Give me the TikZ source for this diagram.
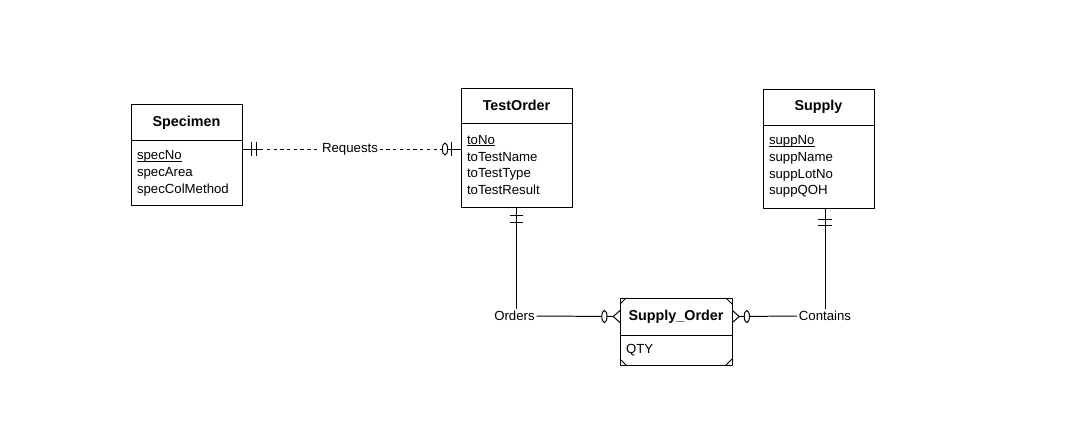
\documentclass[tikz,border=0pt]{standalone}
\usepackage{fontspec}
\setmainfont{Liberation Sans}
\usetikzlibrary{positioning,calc}
\newcommand\keyattr[1]{\setbox0\hbox{#1}\rlap{\rule[-1.4pt]{\wd0}{0.55pt}}#1}
\tikzset{
  erhead/.style={draw, line width=0.7pt, outer sep=0pt, minimum width=2.775cm, minimum height=0.9cm, inner sep=0pt, font=\fontsize{10.2}{12}\selectfont\bfseries},
  erbody/.style={draw, line width=0.7pt, outer sep=0pt, minimum width=2.775cm, text width=2.475cm, inner xsep=0.15cm, inner ysep=0pt, align=left, font=\fontsize{9.4}{12}\selectfont},
  erlabel/.style={inner sep=1pt, font=\fontsize{9.4}{12}\selectfont},
  erline/.style={line width=0.7pt},
  erdash/.style={line width=0.7pt, dash pattern=on 2.4pt off 2.4pt},
  barmark/.pic={\draw[erline] (0,-0.17) -- (0,0.17);},
  ovalmark/.pic={\draw[erline, fill=white] (0,0) ellipse [x radius=0.065, y radius=0.15];},
  crowmark/.pic={\draw[erline] (0.17,0.15) -- (0,0) -- (0.17,-0.15);}
}
\begin{document}
\begin{tikzpicture}
\useasboundingbox (0,0) rectangle (27,11.05);
% entities
\node[erhead] (specHead) at (4.6625,7.98) {Specimen};
\node[erbody, minimum height=1.625cm, below=0pt of specHead] (specAttr) {\keyattr{specNo}\\specArea\\specColMethod};
\node[erhead, minimum height=0.875cm] (toHead) at (12.9125,8.4125) {TestOrder};
\node[erbody, minimum height=2.1cm, below=0pt of toHead] (toAttr) {\keyattr{toNo}\\toTestName\\toTestType\\toTestResult};
\node[erhead] (suppHead) at (20.4625,8.375) {Supply};
\node[erbody, minimum height=2.075cm, below=0pt of suppHead] (suppAttr) {\keyattr{suppNo}\\suppName\\suppLotNo\\suppQOH};
\node[erhead, minimum width=2.8cm, minimum height=0.925cm] (soHead) at (16.9,3.1375) {Supply\_Order};
\node[erbody, minimum width=2.8cm, text width=2.5cm, minimum height=0.75cm, below=0pt of soHead] (soAttr) {QTY};
% corner marks of the associative entity
\foreach \c/\dx/\dy in {soHead.north west/0.15/-0.15, soHead.north east/-0.15/-0.15, soAttr.south west/0.15/0.15, soAttr.south east/-0.15/0.15}
  \draw[erline] ($(\c)+(\dx,0)$) -- ($(\c)+(0,\dy)$);

% relationships
\node[erlabel] (requests) at (8.75,7.325) {Requests};
\node[erlabel] (orders) at (12.8625,3.15) {Orders};
\node[erlabel] (contains) at (20.625,3.15) {Contains};

% Specimen -- TestOrder
\coordinate (reqL) at (specAttr.east |- requests);
\coordinate (reqR) at (toAttr.west |- requests);
\draw[erline] (reqL) -- ++(0.45,0) coordinate (reqLd);
\draw[erdash] (reqLd) -- (requests.west);
\draw[erdash] (requests.east) -- ($(reqR)+(-0.4,0)$);
\draw[erline] ($(reqR)+(-0.4,0)$) -- (reqR);
\pic at ($(reqL)+(0.24,0)$) {barmark};
\pic at ($(reqL)+(0.37,0)$) {barmark};
\pic at ($(reqR)+(-0.25,0)$) {barmark};
\pic at ($(reqR)+(-0.4,0)$) {ovalmark};

% TestOrder -- Supply_Order
\draw[erline] (toAttr.south) -- (toAttr.south |- orders.north);
\draw[erline] (orders.east) -- ($(soHead.west)+(-0.17,0)$);
\pic[rotate=90] at ($(toAttr.south)+(0,-0.2)$) {barmark};
\pic[rotate=90] at ($(toAttr.south)+(0,-0.375)$) {barmark};
\pic at ($(soHead.west)+(-0.39,0)$) {ovalmark};
\pic at ($(soHead.west)+(-0.17,0)$) {crowmark};

% Supply -- Supply_Order
\coordinate (conTop) at (contains.north |- suppAttr.south);
\draw[erline] (contains.north) -- (conTop);
\draw[erline] (contains.west) -- ($(soHead.east)+(0.18,0)$);
\pic[rotate=90] at ($(conTop)+(0,-0.275)$) {barmark};
\pic[rotate=90] at ($(conTop)+(0,-0.425)$) {barmark};
\pic at ($(soHead.east)+(0.37,0)$) {ovalmark};
\pic[xscale=-1] at ($(soHead.east)+(0.18,0)$) {crowmark};
\end{tikzpicture}
\end{document}
